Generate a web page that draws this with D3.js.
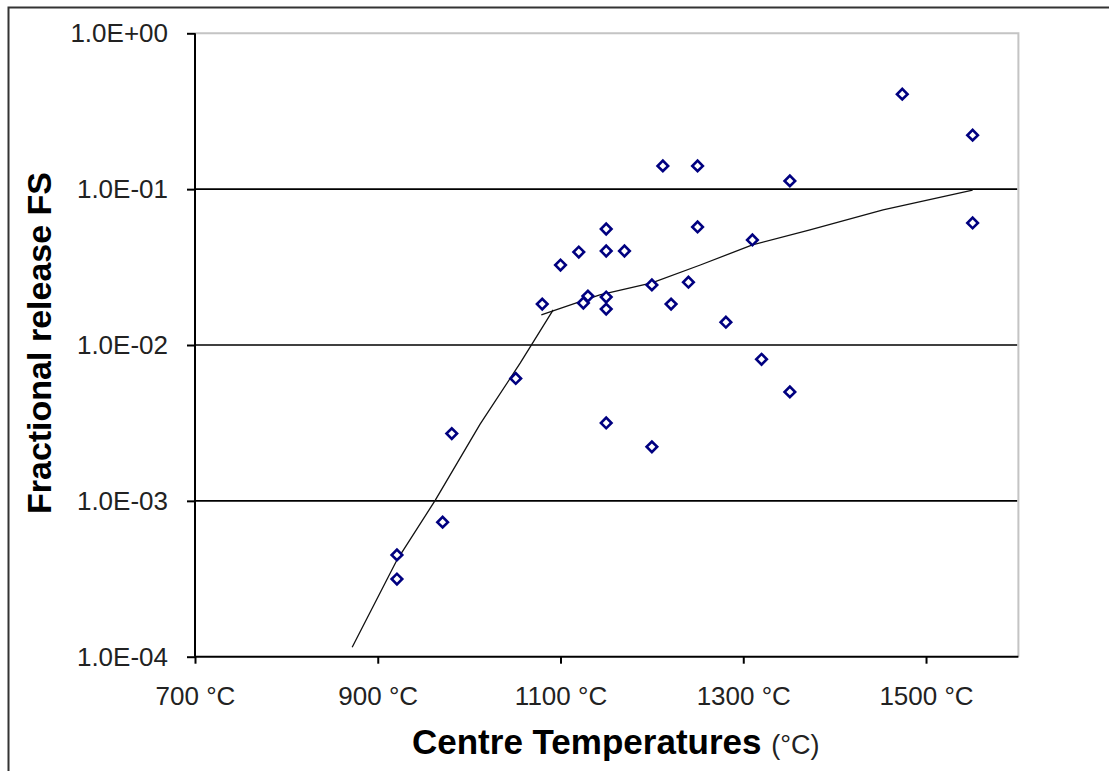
<!DOCTYPE html>
<html><head><meta charset="utf-8">
<script src="https://cdn.jsdelivr.net/npm/d3@7"></script>
<style>
html,body{margin:0;padding:0;background:#fff;}
text{font-family:"Liberation Sans",Arial,sans-serif;}
</style></head>
<body>
<svg id="chart" width="1109" height="771"></svg>
<script>
// Measured data (temperature °C, fractional release FS)
const tempsC = [921, 921, 971, 981, 1051, 1080, 1100, 1120, 1125, 1130, 1150, 1150, 1150, 1150, 1150, 1170, 1200, 1200, 1212, 1221, 1250, 1250, 1240, 1281, 1310, 1320, 1351, 1351, 1474, 1551, 1551];
const fsValues = [4.5e-4, 3.15e-4, 7.3e-4, 2.7e-3, 6.1e-3, 0.0183, 0.0326, 0.0395, 0.0186, 0.0206, 0.0555, 0.0401, 0.0203, 0.0170, 3.16e-3, 0.0401, 0.0243, 2.22e-3, 0.141, 0.0183, 0.141, 0.0572, 0.0253, 0.0140, 0.0472, 8.1e-3, 0.113, 5.0e-3, 0.407, 0.222, 0.0607];
// Fitted trend, low-temperature branch
const fitLowT = [872, 921, 963, 1012, 1056, 1092];
const fitLowV = [1.15e-4, 4.17e-4, 1.01e-3, 3.11e-3, 7.67e-3, 0.0168];
// Fitted trend, high-temperature branch
const fitHighT = [1079, 1143, 1200, 1253, 1310, 1373, 1453, 1551];
const fitHighV = [0.0156, 0.0210, 0.0250, 0.0326, 0.0439, 0.0547, 0.0735, 0.0987];
// Axis ticks
const xTicks = [700, 900, 1100, 1300, 1500];
const yTicks = [1e-4, 1e-3, 1e-2, 1e-1, 1];
const yTickLabels = ["1.0E-04", "1.0E-03", "1.0E-02", "1.0E-01", "1.0E+00"];

const svg = d3.select("#chart");
const L = 195, R = 1017.4, T = 33.3, B = 656.7;
const x = d3.scaleLinear().domain([700, 1600]).range([L, R]);
const y = d3.scaleLog().domain([1e-4, 1]).range([B, T]);

// outer chart frame
svg.append("path").attr("d", "M8.5,771 L8.5,7.5 L1109,7.5")
  .attr("fill", "none").attr("stroke", "#333").attr("stroke-width", 2);

// gridlines
svg.append("g").selectAll("line").data(yTicks.slice(1, 4)).join("line")
  .attr("x1", L).attr("x2", R).attr("y1", d => y(d)).attr("y2", d => y(d))
  .attr("stroke", "#000").attr("stroke-width", 1.6);

// plot area border (top & right)
svg.append("path").attr("d", `M${L},${T} L${R+1},${T} L${R+1},${B}`)
  .attr("fill", "none").attr("stroke", "#c4c4c4").attr("stroke-width", 2);

// axes
const yAxis = d3.axisLeft(y).tickValues(yTicks).tickSize(8).tickPadding(19)
  .tickFormat((d, i) => yTickLabels[yTicks.indexOf(d)]);
const gy = svg.append("g").attr("transform", `translate(${L},0)`).call(yAxis);
gy.select(".domain").attr("stroke", "#000").attr("stroke-width", 2).attr("d", `M0,${T}V${B}`);
gy.selectAll(".tick line").attr("stroke", "#000").attr("stroke-width", 2);
gy.selectAll(".tick text").attr("font-size", 26).attr("fill", "#222")
  .attr("font-family", "Liberation Sans, Arial, sans-serif");

const xAxis = d3.axisBottom(x).tickValues(xTicks).tickSize(7).tickPadding(23)
  .tickFormat(d => d + " °C");
const gx = svg.append("g").attr("transform", `translate(0,${B})`).call(xAxis);
gx.select(".domain").attr("stroke", "#000").attr("stroke-width", 2).attr("d", `M${L},0H${R+1}`);
gx.selectAll(".tick line").attr("stroke", "#000").attr("stroke-width", 2);
gx.selectAll(".tick text").attr("font-size", 26).attr("fill", "#222")
  .attr("font-family", "Liberation Sans, Arial, sans-serif");

// trend lines
const line = d3.line().x(d => x(d[0])).y(d => y(d[1]));
svg.append("path").datum(d3.zip(fitLowT, fitLowV)).attr("d", line)
  .attr("fill", "none").attr("stroke", "#111").attr("stroke-width", 1.3);
svg.append("path").datum(d3.zip(fitHighT, fitHighV)).attr("d", line)
  .attr("fill", "none").attr("stroke", "#111").attr("stroke-width", 1.3);

// markers
const diamond = d3.symbol().type(d3.symbolSquare).size(56);
svg.append("g").selectAll("path").data(d3.zip(tempsC, fsValues)).join("path")
  .attr("d", diamond)
  .attr("transform", d => `translate(${x(d[0])},${y(d[1])}) rotate(45)`)
  .attr("fill", "#fff").attr("stroke", "#000080").attr("stroke-width", 2.6);

// axis titles
const xt = svg.append("text").attr("x", 412).attr("y", 754)
  .attr("font-size", 35).attr("font-weight", "bold").attr("fill", "#000");
xt.append("tspan").text("Centre Temperatures ");
xt.append("tspan").attr("font-weight", "normal").attr("font-size", 27).attr("fill", "#222").text("(°C)");

svg.append("text").attr("transform", "translate(51,343) rotate(-90)")
  .attr("text-anchor", "middle").attr("font-size", 34).attr("font-weight", "bold")
  .attr("fill", "#000").text("Fractional release FS");
</script>
</body></html>
